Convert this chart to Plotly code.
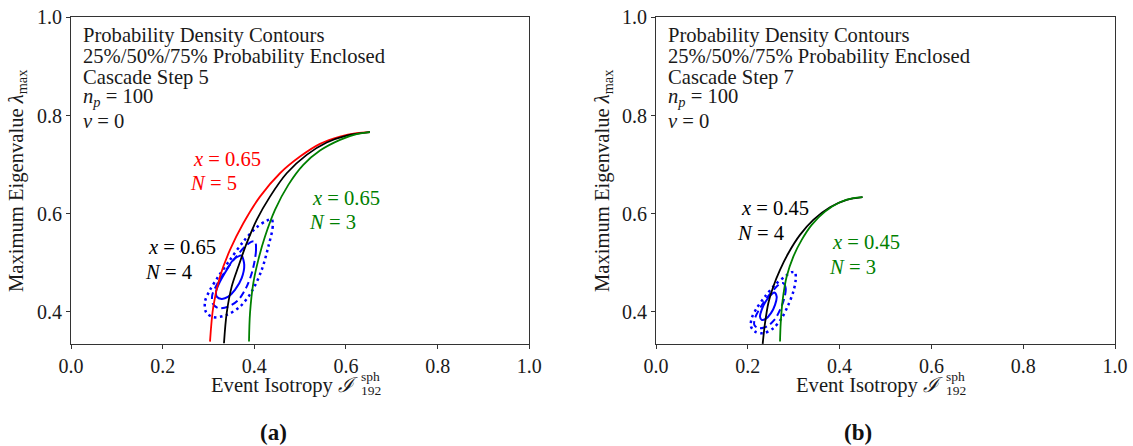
import plotly.graph_objects as go

# ---------------- data ----------------
# Panel (a): Cascade Step 5
a_red_x = [0.3033, 0.3105, 0.3251, 0.3469, 0.3760, 0.4124, 0.4560, 0.4997, 0.5433, 0.5870, 0.6233, 0.6524]
a_red_y = [0.3395, 0.4108, 0.4719, 0.5263, 0.5806, 0.6348, 0.6824, 0.7163, 0.7422, 0.7571, 0.7639, 0.7660]
a_blk_x = [0.3338, 0.3397, 0.3506, 0.3651, 0.3834, 0.4052, 0.4342, 0.4706, 0.5143, 0.5579, 0.6016, 0.6524]
a_blk_y = [0.3362, 0.3973, 0.4515, 0.4923, 0.5399, 0.5874, 0.6348, 0.6824, 0.7198, 0.7449, 0.7591, 0.7660]
a_grn_x = [0.3884, 0.3906, 0.3978, 0.4087, 0.4233, 0.4451, 0.4742, 0.5069, 0.5433, 0.5870, 0.6233, 0.6524]
a_grn_y = [0.3395, 0.3973, 0.4584, 0.5059, 0.5534, 0.6077, 0.6587, 0.6994, 0.7285, 0.7503, 0.7619, 0.7660]

a_c25_x = [0.3724, 0.3780, 0.3724, 0.3578, 0.3433, 0.3288, 0.3179, 0.3164, 0.3251, 0.3397, 0.3541, 0.3688, 0.3724]
a_c25_y = [0.5146, 0.4957, 0.4686, 0.4448, 0.4312, 0.4265, 0.4312, 0.4413, 0.4617, 0.4855, 0.5059, 0.5146, 0.5146]
a_c50_x = [0.4015, 0.4037, 0.3964, 0.3834, 0.3651, 0.3433, 0.3214, 0.3091, 0.3083, 0.3179, 0.3360, 0.3578, 0.3797, 0.3943, 0.4015]
a_c50_y = [0.5432, 0.5262, 0.4855, 0.4515, 0.4244, 0.4108, 0.4075, 0.4177, 0.4346, 0.4550, 0.4821, 0.5094, 0.5330, 0.5432, 0.5432]
a_c75_x = [0.4379, 0.4401, 0.4306, 0.4161, 0.3943, 0.3688, 0.3397, 0.3105, 0.2946, 0.2924, 0.3033, 0.3214, 0.3469, 0.3760, 0.4052, 0.4270, 0.4379]
a_c75_y = [0.5887, 0.5737, 0.5330, 0.4855, 0.4413, 0.4108, 0.3939, 0.3892, 0.3994, 0.4210, 0.4448, 0.4719, 0.5059, 0.5432, 0.5724, 0.5859, 0.5887]

# Panel (b): Cascade Step 7
b_blk_x = [0.2324, 0.2375, 0.2447, 0.2556, 0.2702, 0.2883, 0.3137, 0.3427, 0.3791, 0.4155, 0.4500]
b_blk_y = [0.3348, 0.3770, 0.4177, 0.4516, 0.4855, 0.5195, 0.5568, 0.5874, 0.6132, 0.6281, 0.6336]
b_grn_x = [0.2702, 0.2717, 0.2760, 0.2847, 0.2992, 0.3174, 0.3392, 0.3682, 0.4009, 0.4299, 0.4500]
b_grn_y = [0.3395, 0.3770, 0.4244, 0.4719, 0.5126, 0.5466, 0.5772, 0.6043, 0.6234, 0.6316, 0.6336]

b_c25_x = [0.2578, 0.2629, 0.2593, 0.2505, 0.2389, 0.2302, 0.2266, 0.2302, 0.2389, 0.2505, 0.2578]
b_c25_y = [0.4393, 0.4312, 0.4143, 0.3974, 0.3857, 0.3837, 0.3905, 0.4041, 0.4210, 0.4346, 0.4393]
b_c50_x = [0.2774, 0.2825, 0.2796, 0.2702, 0.2578, 0.2411, 0.2229, 0.2142, 0.2157, 0.2266, 0.2411, 0.2593, 0.2702, 0.2774]
b_c50_y = [0.4584, 0.4482, 0.4279, 0.4041, 0.3837, 0.3701, 0.3668, 0.3735, 0.3872, 0.4075, 0.4279, 0.4482, 0.4570, 0.4584]
b_c75_x = [0.3028, 0.3043, 0.2992, 0.2883, 0.2738, 0.2556, 0.2338, 0.2157, 0.2070, 0.2085, 0.2194, 0.2375, 0.2593, 0.2810, 0.2956, 0.3028]
b_c75_y = [0.4808, 0.4652, 0.4413, 0.4143, 0.3872, 0.3668, 0.3566, 0.3599, 0.3701, 0.3872, 0.4075, 0.4312, 0.4550, 0.4719, 0.4808, 0.4808]

x_ticks = [0.0, 0.2, 0.4, 0.6, 0.8, 1.0]
y_ticks = [0.4, 0.6, 0.8, 1.0]
x_range = [0.0, 1.0]
y_range = [0.334, 1.0]

info_a = ["Probability Density Contours", "25%/50%/75% Probability Enclosed", "Cascade Step 5",
          "<i>n</i><sub><i>p</i></sub> = 100", "<i>ν</i> = 0"]
info_b = ["Probability Density Contours", "25%/50%/75% Probability Enclosed", "Cascade Step 7",
          "<i>n</i><sub><i>p</i></sub> = 100", "<i>ν</i> = 0"]

# ---------------- figure ----------------
FONT = "Liberation Serif"
FS = 20.6
TC = "#1a1a1a"
RED, BLK, GRN, BLU = "#ff0000", "#000000", "#008000", "#0000ff"

fig = go.Figure()

def line(x, y, color, xa, ya, dash="solid", width=1.8):
    fig.add_trace(go.Scatter(x=x, y=y, mode="lines", xaxis=xa, yaxis=ya,
                             line=dict(color=color, width=width, dash=dash, shape="spline", smoothing=0.9),
                             showlegend=False, hoverinfo="skip"))

DOT = "2.5px,3.5px"
DASH = "7px,4px"
# panel a
line(a_c75_x, a_c75_y, BLU, "x", "y", DOT, 2.5)
line(a_c50_x, a_c50_y, BLU, "x", "y", DASH, 2.0)
line(a_c25_x, a_c25_y, BLU, "x", "y", "solid", 2.0)
line(a_red_x, a_red_y, RED, "x", "y")
line(a_blk_x, a_blk_y, BLK, "x", "y")
line(a_grn_x, a_grn_y, GRN, "x", "y")
# panel b
line(b_c75_x, b_c75_y, BLU, "x2", "y2", DOT, 2.5)
line(b_c50_x, b_c50_y, BLU, "x2", "y2", DASH, 2.0)
line(b_c25_x, b_c25_y, BLU, "x2", "y2", "solid", 2.0)
line(b_blk_x, b_blk_y, BLK, "x2", "y2")
line(b_grn_x, b_grn_y, GRN, "x2", "y2")

axis_common = dict(showgrid=False, zeroline=False, showline=True, linecolor="#333333", linewidth=1,
                   mirror=True, ticks="outside", ticklen=4, tickcolor="#333333", automargin=False,
                   tickfont=dict(family=FONT, size=20, color=TC))

H = 446
W = 1133
ydom = [1 - 344.3 / H, 1 - 17.3 / H]
fig.update_layout(
    width=W, height=H, margin=dict(l=0, r=0, t=0, b=0, autoexpand=False),
    plot_bgcolor="white", paper_bgcolor="white",
    xaxis=dict(domain=[71 / W, 529.3 / W], range=x_range, tickvals=x_ticks,
               ticktext=[f"{v:.1f}" for v in x_ticks], anchor="y", **axis_common),
    yaxis=dict(domain=ydom, range=y_range, tickvals=y_ticks,
               ticktext=[f"{v:.1f}" for v in y_ticks], anchor="x", **axis_common),
    xaxis2=dict(domain=[656 / W, 1115 / W], range=x_range, tickvals=x_ticks,
                ticktext=[f"{v:.1f}" for v in x_ticks], anchor="y2", **axis_common),
    yaxis2=dict(domain=ydom, range=y_range, tickvals=y_ticks,
                ticktext=[f"{v:.1f}" for v in y_ticks], anchor="x2", **axis_common),
)

ann = []
def text(x, y, t, xref, yref, color=TC, size=FS, xanchor="left", yanchor="middle", angle=0):
    ann.append(dict(x=x, y=y, xref=xref, yref=yref, text=t, showarrow=False, xanchor=xanchor,
                    yanchor=yanchor, textangle=angle, borderpad=0,
                    font=dict(family=FONT, size=size, color=color)))

line_ys = [0.9627, 0.920, 0.8772, 0.8372, 0.789]
for t, yy in zip(info_a, line_ys):
    text(0.0238, yy, t, "x", "y")
for t, yy in zip(info_b, line_ys):
    text(0.0238, yy, t, "x2", "y2")

# curve labels
text(0.264, 0.7116, "<i>x</i> = 0.65", "x", "y", RED)
text(0.257, 0.6627, "<i>N</i> = 5", "x", "y", RED)
text(0.166, 0.5318, "<i>x</i> = 0.65", "x", "y", BLK)
text(0.159, 0.482, "<i>N</i> = 4", "x", "y", BLK)
text(0.5235, 0.6316, "<i>x</i> = 0.65", "x", "y", GRN)
text(0.5165, 0.5839, "<i>N</i> = 3", "x", "y", GRN)
text(0.182, 0.611, "<i>x</i> = 0.45", "x2", "y2", BLK)
text(0.174, 0.560, "<i>N</i> = 4", "x2", "y2", BLK)
text(0.382, 0.542, "<i>x</i> = 0.45", "x2", "y2", GRN)
text(0.3745, 0.492, "<i>N</i> = 3", "x2", "y2", GRN)

# axis titles (script I with stacked sph / 192)
for right_px, sup_px in [(359, 360), (944, 945)]:
    text(right_px / W, 1 - 385.5 / H, "Event Isotropy <i>ℐ</i>", "paper", "paper", xanchor="right")
    text(sup_px / W, 1 - 376 / H, "sph", "paper", "paper", size=13.5)
    text(sup_px / W, 1 - 390.5 / H, "192", "paper", "paper", size=13.5)
yt = "Maximum Eigenvalue <i>λ</i><sub>max</sub>"
text(18 / W, 1 - 181 / H, yt, "paper", "paper", xanchor="center", angle=-90)
text(604 / W, 1 - 181 / H, yt, "paper", "paper", xanchor="center", angle=-90)

# sub-figure captions
text(273 / W, 0.0, "<b>(a)</b>", "paper", "paper", "#111111", 23, xanchor="center", yanchor="bottom")
text(858 / W, 0.0, "<b>(b)</b>", "paper", "paper", "#111111", 23, xanchor="center", yanchor="bottom")

fig.update_layout(annotations=ann)
fig.write_html("out.html")
